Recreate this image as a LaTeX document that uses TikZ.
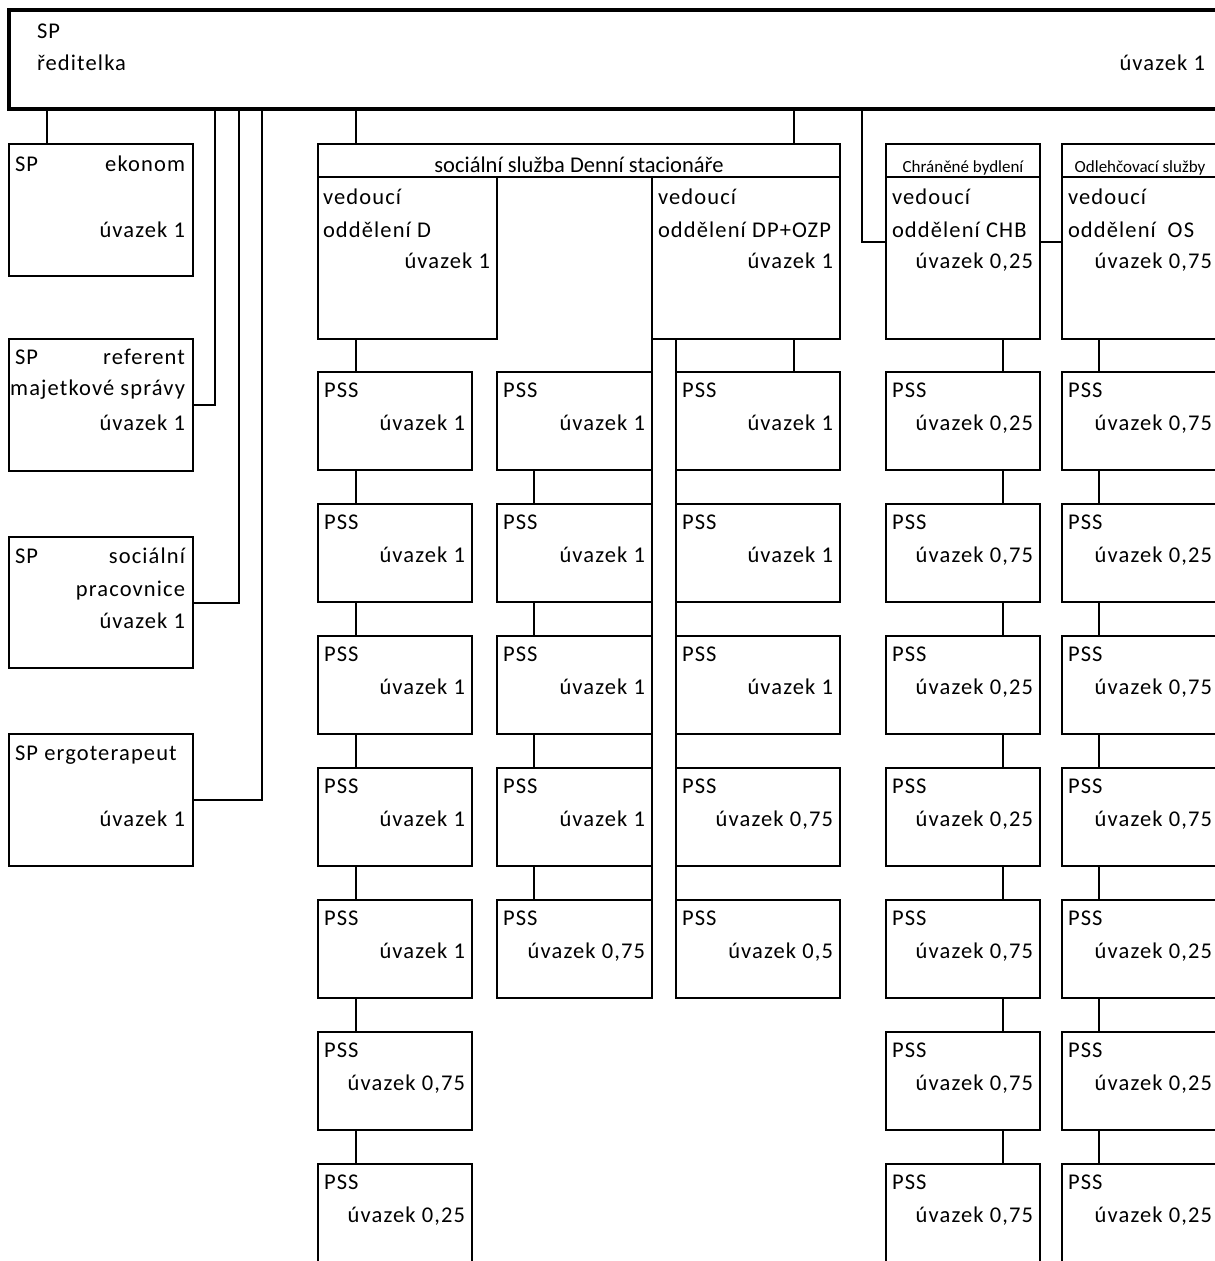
\documentclass[tikz,border=0pt]{standalone}
\usepackage{fontspec}
\usetikzlibrary{calc}
\newfontfamily\calsp[LetterSpace=5]{Carlito}
\newfontfamily\calno{Carlito}
\newcommand\pssbox[5]{%
  \node[box, minimum width=#4pt, minimum height=98pt] (#1) at (#2,#3) {};
  \node[lw] (#1-p) at ($(#1.north west)+(6,25)$) {PSS};
  \node[le] (#1-u) at ($(#1.north east)+(-7,58)$) {úvazek #5};
}
\begin{document}
\begin{tikzpicture}[x=1pt,y=-1pt,
  box/.style={draw, line width=2pt, rectangle, inner sep=0pt, outer sep=0pt, anchor=north west},
  conn/.style={line width=2pt},
  txt/.style={inner sep=0pt, outer sep=0pt, font=\calsp\fontsize{22.5}{27}\selectfont},
  lw/.style={txt, anchor=base west},
  le/.style={txt, anchor=base east},
  hdr/.style={inner sep=0pt, outer sep=0pt, anchor=base, font=\calno\fontsize{22.5}{27}\selectfont},
  small/.style={inner sep=0pt, outer sep=0pt, anchor=base, font=\calno\fontsize{17}{20}\selectfont},
]
\useasboundingbox (0,0) rectangle (1215,1261);

% top bar
\node[box, line width=3.3pt, minimum width=1230pt, minimum height=99pt] (top) at (9,10) {};
\node[lw] (topsp) at (37,38) {SP};
\node[lw] (topred) at (37,70) {ředitelka};
\node[le] (topuv) at (1205,70) {úvazek 1};

% left staff boxes
\node[box, minimum width=184pt, minimum height=132pt] (eko) at (9,144) {};
\node[lw] (eko1) at (15,171) {SP};
\node[le] (eko2) at (185,171) {ekonom};
\node[le] (eko3) at (185,237) {úvazek 1};

\node[box, minimum width=184pt, minimum height=132pt] (ref) at (9,339) {};
\node[lw] (ref1) at (15,364) {SP};
\node[le] (ref2) at (185,364) {referent};
\node[le] (ref3) at (185,395) {majetkové správy};
\node[le] (ref4) at (185,430) {úvazek 1};

\node[box, minimum width=184pt, minimum height=131pt] (soc) at (9,537) {};
\node[lw] (soc1) at (15,563) {SP};
\node[le] (soc2) at (185,563) {sociální};
\node[le] (soc3) at (185,596) {pracovnice};
\node[le] (soc4) at (185,628) {úvazek 1};

\node[box, minimum width=184pt, minimum height=132pt] (erg) at (9,734) {};
\node[lw] (erg1) at (15,760) {SP ergoterapeut};
\node[le] (erg2) at (185,826) {úvazek 1};

% Denni stacionare
\node[box, minimum width=522pt, minimum height=33pt] (dsh) at (318,144) {};
\node[hdr] (dsht) at (579,172) {sociální služba Denní stacionáře};
\node[box, minimum width=179pt, minimum height=162pt] (dbox) at (318,177) {};
\node[lw] (d1) at (323,204) {vedoucí};
\node[lw] (d2) at (323,237) {oddělení D};
\node[le] (d3) at (490,268) {úvazek 1};
\node[box, minimum width=188pt, minimum height=162pt] (dp) at (652,177) {};
\node[lw] (dp1) at (658,204) {vedoucí};
\node[lw] (dp2) at (658,237) {oddělení DP+OZP};
\node[le] (dp3) at (833,268) {úvazek 1};

% Chranene bydleni
\node[box, minimum width=154pt, minimum height=195pt] (chb) at (886,144) {};
\node[box, minimum width=154pt, minimum height=33pt] (chbh) at (886,144) {};
\node[small] (chbt) at (963,172) {Chráněné bydlení};
\node[lw] (chb1) at (892,204) {vedoucí};
\node[lw] (chb2) at (892,237) {oddělení CHB};
\node[le] (chb3) at (1033,268) {úvazek 0,25};

% Odlehcovaci sluzby
\node[box, minimum width=157pt, minimum height=195pt] (os) at (1062,144) {};
\node[box, minimum width=157pt, minimum height=33pt] (osh) at (1062,144) {};
\node[small] (ost) at (1140,172) {Odlehčovací služby};
\node[lw] (os1) at (1068,204) {vedoucí};
\node[lw] (os2) at (1068,237) {oddělení\hspace{0.25em} OS};
\node[le] (os3) at (1212,268) {úvazek 0,75};

% PSS columns
\foreach \v [count=\i] in {1,1,1,1,1,{0,75},{0,25}} {
  \pgfmathtruncatemacro\yy{372+132*(\i-1)}
  \pssbox{a\i}{318}{\yy}{154}{\v}
}
\foreach \v [count=\i] in {1,1,1,1,{0,75}} {
  \pgfmathtruncatemacro\yy{372+132*(\i-1)}
  \pssbox{b\i}{497}{\yy}{155}{\v}
}
\foreach \v [count=\i] in {1,1,1,{0,75},{0,5}} {
  \pgfmathtruncatemacro\yy{372+132*(\i-1)}
  \pssbox{c\i}{676}{\yy}{164}{\v}
}
\foreach \v [count=\i] in {{0,25},{0,75},{0,25},{0,25},{0,75},{0,75},{0,75}} {
  \pgfmathtruncatemacro\yy{372+132*(\i-1)}
  \pssbox{h\i}{886}{\yy}{154}{\v}
}
\foreach \v [count=\i] in {{0,75},{0,25},{0,75},{0,75},{0,25},{0,25},{0,25}} {
  \pgfmathtruncatemacro\yy{372+132*(\i-1)}
  \pssbox{o\i}{1062}{\yy}{157}{\v}
}

% connector x positions
\coordinate (kek) at (47,0);
\coordinate (kref) at (215,0);
\coordinate (ksoc) at (239,0);
\coordinate (kerg) at (262,0);
\coordinate (k1) at (356,0);
\coordinate (k2) at (534,0);
\coordinate (k3) at (794,0);
\coordinate (kch) at (862,0);
\coordinate (kchb) at (1003,0);
\coordinate (kos) at (1099,0);

% connectors from the top
\draw[conn] (kek |- top.south) -- (kek |- eko.north);
\draw[conn] (kref |- top.south) |- (ref.east);
\draw[conn] (ksoc |- top.south) |- (soc.east);
\draw[conn] (kerg |- top.south) |- (erg.east);
\draw[conn] (k1 |- top.south) -- (k1 |- dsh.north);
\draw[conn] (k3 |- top.south) -- (k3 |- dsh.north);
\draw[conn] (kch |- top.south) |- (chb.west);
\draw[conn] (chb.east) -- (os.west);

% column connectors
\draw[conn] (k1 |- dbox.south) -- (k1 |- a1.north);
\foreach \i [evaluate=\i as \j using int(\i+1)] in {1,...,6}
  \draw[conn] (k1 |- a\i.south) -- (k1 |- a\j.north);
\foreach \i [evaluate=\i as \j using int(\i+1)] in {1,...,4}
  \draw[conn] (k2 |- b\i.south) -- (k2 |- b\j.north);
\draw[conn] (dp.south west) -- (b5.south east);
\draw[conn] (c1.north west |- dp.south) -- (c5.south west);
\draw[conn] (k3 |- dp.south) -- (k3 |- c1.north);
\draw[conn] (kchb |- chb.south) -- (kchb |- h1.north);
\draw[conn] (kos |- os.south) -- (kos |- o1.north);
\foreach \i [evaluate=\i as \j using int(\i+1)] in {1,...,6} {
  \draw[conn] (kchb |- h\i.south) -- (kchb |- h\j.north);
  \draw[conn] (kos |- o\i.south) -- (kos |- o\j.north);
}
\end{tikzpicture}
\end{document}
